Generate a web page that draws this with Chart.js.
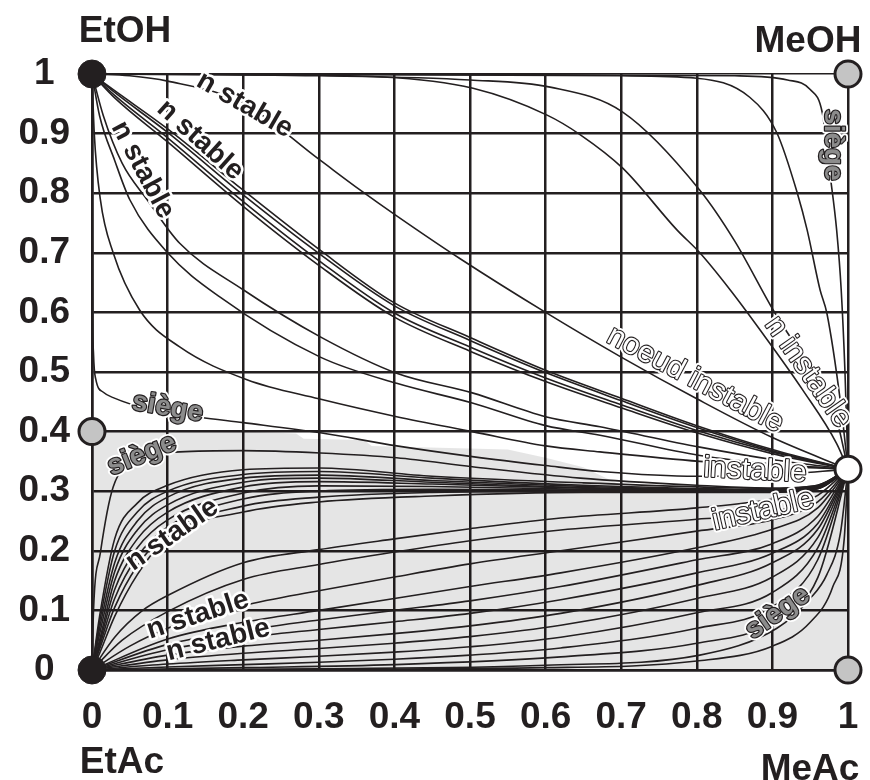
<!DOCTYPE html>
<html><head><meta charset="utf-8">
<script src="https://cdn.jsdelivr.net/npm/chart.js@4"></script>
<style>html,body{margin:0;padding:0;background:#fff;}canvas{display:block;}</style>
</head><body>
<canvas id="c" width="870" height="780"></canvas>
<script>
// ---------- tick labels ----------
const xTickLabels = ['0','0.1','0.2','0.3','0.4','0.5','0.6','0.7','0.8','0.9','1'];
const yTickLabels = ['0','0.1','0.2','0.3','0.4','0.5','0.6','0.7','0.8','0.9','1'];
const cornerNames = ['EtOH','MeOH','EtAc','MeAc'];

// ---------- singular points ----------
const stableNodes   = [[0,1],[0,0]];
const saddlePoints  = [[1,1],[0,0.4],[1,0]];
const unstableNode  = [[1,0.337]];

// ---------- shaded region (upper edge) ----------
const regionTop = [[0,0.4],[0.2,0.4],[0.27,0.397],[0.28,0.388],[0.36,0.386],[0.37,0.376],[0.55,0.37],[0.6,0.356],[0.65,0.34],[0.7,0.31],[0.72,0.302],[1,0.3]];

// ---------- residue curves ending at EtOH ----------
const curveU1 = [[0,1],[0.5,0.999],[0.85,0.997],[0.92,0.99],[0.95,0.974],[0.966,0.935],[0.976,0.834],[0.985,0.738],[0.991,0.638],[0.996,0.5],[1,0.337]];
const curveU2 = [[0,1],[0.4,0.999],[0.7,0.997],[0.8,0.993],[0.87,0.961],[0.906,0.901],[0.933,0.8],[0.946,0.738],[0.963,0.638],[0.972,0.599],[0.99,0.45],[1,0.337]];
const curveU3 = [[0,1],[0.3,0.997],[0.5,0.99],[0.606,0.978],[0.702,0.936],[0.804,0.805],[0.85,0.72],[0.901,0.604],[0.95,0.505],[0.985,0.42],[1,0.337]];
const curveU4 = [[0,1],[0.2,0.999],[0.385,0.995],[0.504,0.976],[0.602,0.931],[0.646,0.898],[0.702,0.842],[0.774,0.738],[0.804,0.7],[0.844,0.638],[0.884,0.57],[0.94,0.47],[0.985,0.38],[1,0.337]];
const curveU5 = [[0,1],[0.05,0.997],[0.1,0.988],[0.2,0.951],[0.3,0.857],[0.354,0.806],[0.403,0.762],[0.487,0.69],[0.6,0.6],[0.7,0.525],[0.8,0.455],[0.9,0.39],[1,0.337]];
const bundleA = [[0,1],[0.03,0.972],[0.1,0.908],[0.2,0.805],[0.3,0.706],[0.4,0.616],[0.5,0.558],[0.6,0.503],[0.7,0.456],[0.8,0.41],[0.9,0.37],[1,0.337]];
const bundleB = [[0,1],[0.03,0.969],[0.1,0.902],[0.2,0.797],[0.3,0.699],[0.4,0.611],[0.5,0.553],[0.6,0.499],[0.7,0.452],[0.8,0.407],[0.9,0.368],[1,0.337]];
const bundleC = [[0,1],[0.03,0.964],[0.1,0.893],[0.2,0.786],[0.3,0.687],[0.4,0.599],[0.5,0.542],[0.6,0.49],[0.7,0.445],[0.8,0.402],[0.9,0.366],[1,0.337]];
const bundleD = [[0,1],[0.03,0.96],[0.1,0.886],[0.2,0.778],[0.3,0.679],[0.4,0.592],[0.5,0.535],[0.6,0.484],[0.7,0.44],[0.8,0.398],[0.9,0.363],[1,0.337]];
const curveV3 = [[0,1],[0.015,0.93],[0.04,0.85],[0.073,0.789],[0.116,0.716],[0.2,0.638],[0.302,0.559],[0.403,0.498],[0.503,0.465],[0.6,0.425],[0.672,0.408],[0.804,0.374],[0.906,0.352],[1,0.337]];
const curveV2 = [[0,1],[0.01,0.93],[0.03,0.855],[0.05,0.789],[0.1,0.7],[0.169,0.626],[0.302,0.525],[0.403,0.481],[0.503,0.448],[0.6,0.41],[0.672,0.394],[0.804,0.36],[0.906,0.345],[1,0.337]];
const curveV1 = [[0,1],[0.003,0.9],[0.011,0.79],[0.028,0.7],[0.063,0.604],[0.116,0.542],[0.205,0.487],[0.3,0.455],[0.403,0.425],[0.503,0.4],[0.6,0.376],[0.672,0.366],[0.804,0.35],[0.906,0.342],[1,0.337]];
const saddleUpper = [[0,1],[0.0005,0.8],[0.001,0.6],[0.002,0.53],[0.005,0.488],[0.015,0.466],[0.028,0.457],[0.08,0.436],[0.143,0.424],[0.2,0.415],[0.302,0.398],[0.403,0.376],[0.503,0.358],[0.6,0.343],[0.672,0.333],[0.8,0.325],[0.9,0.327],[1,0.337]];

// ---------- residue curves ending at EtAc ----------
const saddleLower = [[0,0],[0.002,0.1],[0.011,0.196],[0.028,0.307],[0.063,0.352],[0.116,0.366],[0.2,0.368],[0.302,0.364],[0.403,0.356],[0.503,0.341],[0.646,0.322],[0.8,0.31],[0.9,0.305],[0.96,0.31],[1,0.337]];
const lowerL1 = [[0,0],[0.01,0.09],[0.03,0.22],[0.06,0.28],[0.1,0.31],[0.2,0.336],[0.3,0.339],[0.45,0.325],[0.65,0.314],[0.9,0.305],[0.96,0.31],[1,0.337]];
const lowerL2 = [[0,0],[0.01,0.08],[0.03,0.2],[0.06,0.265],[0.1,0.3],[0.2,0.328],[0.3,0.333],[0.45,0.322],[0.65,0.31],[0.9,0.303],[0.96,0.309],[1,0.337]];
const lowerL3 = [[0,0],[0.01,0.07],[0.03,0.18],[0.06,0.25],[0.1,0.29],[0.2,0.322],[0.3,0.327],[0.45,0.318],[0.65,0.308],[0.9,0.302],[0.96,0.308],[1,0.337]];
const lowerL4 = [[0,0],[0.01,0.06],[0.03,0.165],[0.06,0.235],[0.1,0.277],[0.2,0.315],[0.3,0.322],[0.45,0.315],[0.65,0.306],[0.9,0.301],[0.96,0.307],[1,0.337]];
const lowerL5 = [[0,0],[0.01,0.05],[0.03,0.15],[0.06,0.22],[0.1,0.265],[0.2,0.307],[0.3,0.316],[0.45,0.312],[0.65,0.305],[0.9,0.3],[0.96,0.306],[1,0.337]];
const lowerL6 = [[0,0],[0.01,0.045],[0.03,0.135],[0.06,0.205],[0.1,0.252],[0.2,0.297],[0.3,0.309],[0.45,0.308],[0.65,0.303],[0.9,0.3],[0.96,0.305],[1,0.337]];
const lowerL7 = [[0,0],[0.01,0.04],[0.03,0.12],[0.06,0.19],[0.1,0.24],[0.2,0.287],[0.3,0.3],[0.45,0.303],[0.65,0.302],[0.9,0.299],[0.96,0.305],[1,0.337]];
const lowerL8 = [[0,0],[0.01,0.035],[0.03,0.105],[0.06,0.175],[0.1,0.23],[0.2,0.275],[0.3,0.29],[0.45,0.298],[0.65,0.3],[0.9,0.299],[0.96,0.304],[1,0.337]];
const lowerL9 = [[0,0],[0.01,0.028],[0.03,0.09],[0.06,0.16],[0.1,0.223],[0.2,0.265],[0.3,0.282],[0.45,0.292],[0.65,0.298],[0.9,0.298],[0.96,0.304],[1,0.337]];
const shallowA = [[0,0],[0.03,0.055],[0.067,0.1],[0.1,0.125],[0.2,0.18],[0.3,0.202],[0.4,0.22],[0.5,0.237],[0.62,0.255],[0.8,0.272],[0.9,0.287],[0.96,0.307],[1,0.337]];
const shallowB = [[0,0],[0.04,0.05],[0.1,0.098],[0.2,0.152],[0.3,0.177],[0.4,0.198],[0.5,0.217],[0.62,0.235],[0.8,0.253],[0.9,0.265],[0.96,0.293],[1,0.337]];
const shallowC = [[0,0],[0.05,0.04],[0.1,0.07],[0.2,0.108],[0.3,0.133],[0.4,0.156],[0.5,0.178],[0.62,0.2],[0.8,0.233],[0.9,0.252],[0.96,0.282],[1,0.337]];
const shallowD = [[0,0],[0.1,0.052],[0.2,0.08],[0.3,0.1],[0.4,0.12],[0.5,0.14],[0.62,0.163],[0.8,0.205],[0.9,0.236],[0.96,0.272],[1,0.337]];
const shallowE = [[0,0],[0.1,0.043],[0.2,0.066],[0.3,0.084],[0.4,0.1],[0.5,0.116],[0.62,0.14],[0.8,0.185],[0.9,0.212],[0.96,0.258],[1,0.337]];
const shallowF = [[0,0],[0.1,0.034],[0.2,0.054],[0.3,0.068],[0.4,0.081],[0.5,0.095],[0.62,0.118],[0.8,0.163],[0.9,0.196],[0.96,0.246],[1,0.337]];
const shallowG = [[0,0],[0.1,0.025],[0.2,0.04],[0.3,0.05],[0.4,0.061],[0.5,0.074],[0.62,0.095],[0.8,0.142],[0.9,0.18],[0.96,0.236],[1,0.337]];
const shallowH = [[0,0],[0.1,0.017],[0.2,0.028],[0.3,0.036],[0.4,0.045],[0.5,0.056],[0.62,0.075],[0.8,0.12],[0.9,0.156],[0.96,0.222],[1,0.337]];
const shallowI = [[0,0],[0.1,0.01],[0.2,0.017],[0.3,0.023],[0.4,0.03],[0.5,0.039],[0.62,0.055],[0.8,0.096],[0.9,0.13],[0.96,0.205],[1,0.337]];
const shallowJ = [[0,0],[0.1,0.005],[0.2,0.009],[0.3,0.013],[0.4,0.018],[0.5,0.025],[0.62,0.037],[0.8,0.07],[0.9,0.106],[0.96,0.185],[1,0.337]];
const shallowK = [[0,0],[0.2,0.004],[0.4,0.009],[0.62,0.022],[0.8,0.045],[0.9,0.08],[0.96,0.155],[1,0.337]];
const saddleRight = [[0,0],[0.3,0.002],[0.6,0.008],[0.804,0.025],[0.906,0.07],[0.95,0.12],[0.972,0.16],[0.99,0.23],[1,0.337]];
const bottomEdge = [[0,0],[0.6,0.004],[0.8,0.015],[0.9,0.04],[0.95,0.08],[0.98,0.14],[0.995,0.22],[1,0.337]];

// ---------- annotation texts ----------
const labelTexts = ['n stable','n stable','n stable','siège','siège','n stable','n stable','n stable','noeud instable','n instable','siège','instable','instable','siège'];
const labelAnchors = [[0.202,0.948],[0.143,0.889],[0.067,0.839],[0.1,0.44],[0.066,0.361],[0.106,0.227],[0.14,0.092],[0.167,0.05],[0.798,0.487],[0.947,0.5],[0.98,0.881],[0.877,0.334],[0.888,0.268],[0.907,0.096]];
const labelAngles = [30,42,62,10,-22,-35,-18,-14,28,55,90,3,-13,-35];
const labelKinds = ['dark','dark','dark','gray','gray','dark','dark','dark','hollow','hollow','gray','hollow','hollow','gray'];

const INK = '#231f20';
const FONT = '"Liberation Sans", Arial, sans-serif';
const toPts = a => a.map(p => ({x:p[0], y:p[1]}));

const upperCurves = [curveU1,curveU2,curveU3,curveU4,curveU5,bundleA,bundleB,bundleC,bundleD,curveV3,curveV2,curveV1,saddleUpper];
const lowerCurves = [saddleLower,lowerL1,lowerL2,lowerL3,lowerL4,lowerL5,lowerL6,lowerL7,lowerL8,lowerL9,
  shallowA,shallowB,shallowC,shallowD,shallowE,shallowF,shallowG,shallowH,shallowI,shallowJ,shallowK,saddleRight,bottomEdge];

const datasets = [];
datasets.push({label:'region', data: toPts(regionTop), showLine:true, fill:'origin',
  backgroundColor:'rgba(0,0,0,0.1)', borderWidth:0, pointRadius:0, tension:0, order:100});
upperCurves.concat(lowerCurves).forEach((c,i) => datasets.push({
  label:'curve'+i, data: toPts(c), showLine:true, fill:false, borderColor:INK, borderWidth:1.6,
  pointRadius:0, cubicInterpolationMode:'monotone', order:50, clip:false}));
datasets.push({label:'stable', data: toPts(stableNodes), showLine:false, pointRadius:14,
  pointBackgroundColor:INK, pointBorderColor:INK, pointBorderWidth:1, order:1, clip:false});
datasets.push({label:'saddle', data: toPts(saddlePoints), showLine:false, pointRadius:13,
  pointBackgroundColor:'#c4c4c4', pointBorderColor:INK, pointBorderWidth:3, order:1, clip:false});
datasets.push({label:'unstable', data: toPts(unstableNode), showLine:false, pointRadius:13,
  pointBackgroundColor:'#ffffff', pointBorderColor:INK, pointBorderWidth:3, order:1, clip:false});

const textPlugin = {
  id:'texts',
  afterDatasetsDraw(chart){
    const ctx = chart.ctx, xs = chart.scales.x, ys = chart.scales.y;
    ctx.save();
    ctx.textAlign='center'; ctx.textBaseline='middle'; ctx.lineJoin='round';
    labelTexts.forEach((t,i) => {
      const px = xs.getPixelForValue(labelAnchors[i][0]);
      const py = ys.getPixelForValue(labelAnchors[i][1]);
      ctx.save(); ctx.translate(px,py); ctx.rotate(labelAngles[i]*Math.PI/180);
      const k = labelKinds[i];
      if (k==='dark'){
        ctx.font = 'bold 28px '+FONT;
        ctx.strokeStyle='#fff'; ctx.lineWidth=5; ctx.strokeText(t,0,0);
        ctx.fillStyle=INK; ctx.fillText(t,0,0);
      } else if (k==='gray'){
        ctx.font = 'bold 28px '+FONT;
        ctx.strokeStyle='#fff'; ctx.lineWidth=6; ctx.strokeText(t,0,0);
        ctx.strokeStyle=INK; ctx.lineWidth=2.4; ctx.strokeText(t,0,0);
        ctx.fillStyle='#8c8c8c'; ctx.fillText(t,0,0);
      } else {
        ctx.font = '30px '+FONT;
        ctx.strokeStyle='#fff'; ctx.lineWidth=6; ctx.strokeText(t,0,0);
        ctx.strokeStyle=INK; ctx.lineWidth=2.2; ctx.strokeText(t,0,0);
        ctx.fillStyle='#fff'; ctx.fillText(t,0,0);
      }
      ctx.restore();
    });
    // corner component names
    ctx.fillStyle = INK; ctx.font = 'bold 37px '+FONT;
    const x0 = xs.getPixelForValue(0), x1 = xs.getPixelForValue(1);
    const y0 = ys.getPixelForValue(0), y1 = ys.getPixelForValue(1);
    ctx.fillText(cornerNames[0], x0+33, y1-42);
    ctx.fillText(cornerNames[1], x1-40, y1-32);
    ctx.fillText(cornerNames[2], x0+30, y0+93);
    ctx.fillText(cornerNames[3], x1-38, y0+100);
    ctx.restore();
  }
};

new Chart(document.getElementById('c'), {
  type:'scatter',
  data:{datasets},
  options:{
    responsive:false, animation:false, devicePixelRatio:1, events:[],
    layout:{autoPadding:false, padding:{left:0, right:22, top:74, bottom:50}},
    plugins:{legend:{display:false}, tooltip:{enabled:false}},
    scales:{
      x:{type:'linear', min:0, max:1, position:'bottom',
        ticks:{stepSize:0.1, autoSkip:false, maxRotation:0, color:INK, padding:2,
          font:{family:FONT, weight:'bold', size:37},
          callback:(v,i)=>xTickLabels[i]},
        grid:{color:INK, lineWidth:2.5, drawTicks:true, tickLength:24, tickColor:'rgba(0,0,0,0)'},
        border:{display:true, color:INK, width:2.5},
        afterFit:s=>{s.height=60;}},
      y:{type:'linear', min:0, max:1, position:'left',
        ticks:{stepSize:0.1, autoSkip:false, color:INK, padding:22, crossAlign:'center',
          font:{family:FONT, weight:'bold', size:37},
          callback:(v,i)=>yTickLabels[i]},
        grid:{color:INK, lineWidth:c=> (c.tick && c.tick.value===1) ? 1.5 : 2.5, drawTicks:false},
        border:{display:true, color:INK, width:2.5},
        afterFit:s=>{s.width=92;}}
    }
  },
  plugins:[textPlugin]
});
</script>
</body></html>
